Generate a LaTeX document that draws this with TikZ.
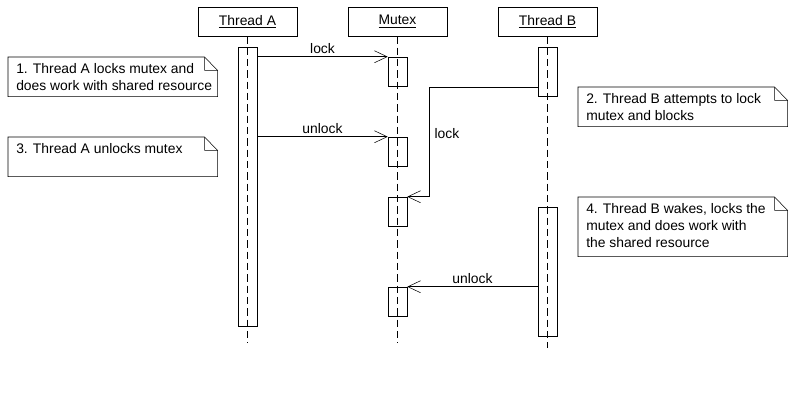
\documentclass[tikz,border=0pt]{standalone}
\usepackage{fontspec}
\setmainfont{Liberation Sans}
\usetikzlibrary{arrows.meta}

\begin{document}
\begin{tikzpicture}[x=0.75pt, y=-0.75pt, font=\fontsize{10.4}{12.75}\selectfont]
  \tikzstyle{headnode}=[draw, minimum width=74.25pt, minimum height=21.75pt, inner sep=0pt]
  \tikzstyle{actbox}=[draw, minimum width=14.25pt, inner sep=0pt]
  \tikzstyle{lifeline}=[dash pattern=on 5.5pt off 3pt]
  \tikzstyle{msg}=[-{Straight Barb[length=9.5pt, width=9pt]}]
  \tikzstyle{notenode}=[minimum width=156.75pt, inner sep=0pt, anchor=north west]
  \tikzstyle{notetext}=[anchor=north west, align=left, inner sep=0pt, xshift=6pt, yshift=-5pt]
  \useasboundingbox (0,0) rectangle (794,400);

  \node[headnode] (ta) at (247.5,21.5) {\underline{Thread A}};
  \node[headnode] (mx) at (397.5,21.5) {\underline{Mutex}};
  \node[headnode] (tb) at (547.5,21.5) {\underline{Thread B}};
  \coordinate (taend) at (247.5,343);
  \coordinate (mxend) at (397.5,343);
  \coordinate (tbend) at (547.5,348);
  \draw[lifeline] (ta.south) -- (taend);
  \draw[lifeline] (mx.south) -- (mxend);
  \draw[lifeline] (tb.south) -- (tbend);

  \node[actbox, minimum height=209.25pt] (aa) at (247.5,186.5) {};
  \node[actbox, minimum height=36.75pt] (ba1) at (547.5,71.5) {};
  \node[actbox, minimum height=96.75pt] (ba2) at (547.5,271.5) {};
  \node[actbox, minimum height=21.75pt] (m1) at (397.5,71.5) {};
  \node[actbox, minimum height=21.75pt] (m2) at (397.5,151.5) {};
  \node[actbox, minimum height=21.75pt] (m3) at (397.5,211.5) {};
  \node[actbox, minimum height=21.75pt] (m4) at (397.5,301.5) {};

  \coordinate (bent) at (429,87);
  \draw[msg] (aa.east |- m1.north) -- node[above, inner sep=2pt] {lock} (m1.north west);
  \draw[msg] (aa.east |- m2.north) -- node[above, inner sep=2pt] {unlock} (m2.north west);
  \draw[msg] (ba1.west |- bent) -- (bent) |- node[pos=0.21, right, inner sep=4pt] {lock} (m3.north east);
  \draw[msg] (ba2.west |- m4.north) -- node[above, inner sep=2pt] {unlock} (m4.north east);

  \node[notenode, minimum height=29.25pt] (n1) at (8,57) {};
  \node[notenode, minimum height=29.25pt] (n2) at (578,87) {};
  \node[notenode, minimum height=29.25pt] (n3) at (8,137) {};
  \node[notenode, minimum height=44.25pt] (n4) at (578,197) {};
  \foreach \n in {n1,n2,n3,n4}
    \draw (\n.north west) -- ([xshift=-9.75pt]\n.north east) -- ([yshift=-10pt]\n.north east)
      -- (\n.south east) -- (\n.south west) -- cycle
      ([xshift=-9.75pt]\n.north east) |- ([yshift=-10pt]\n.north east);
  \node[notetext] at (n1.north west) {1. Thread A locks mutex and\\does work with shared resource};
  \node[notetext] at (n2.north west) {2. Thread B attempts to lock\\mutex and blocks};
  \node[notetext] at (n3.north west) {3. Thread A unlocks mutex};
  \node[notetext] at (n4.north west) {4. Thread B wakes, locks the\\mutex and does work with\\the shared resource};
\end{tikzpicture}
\end{document}
